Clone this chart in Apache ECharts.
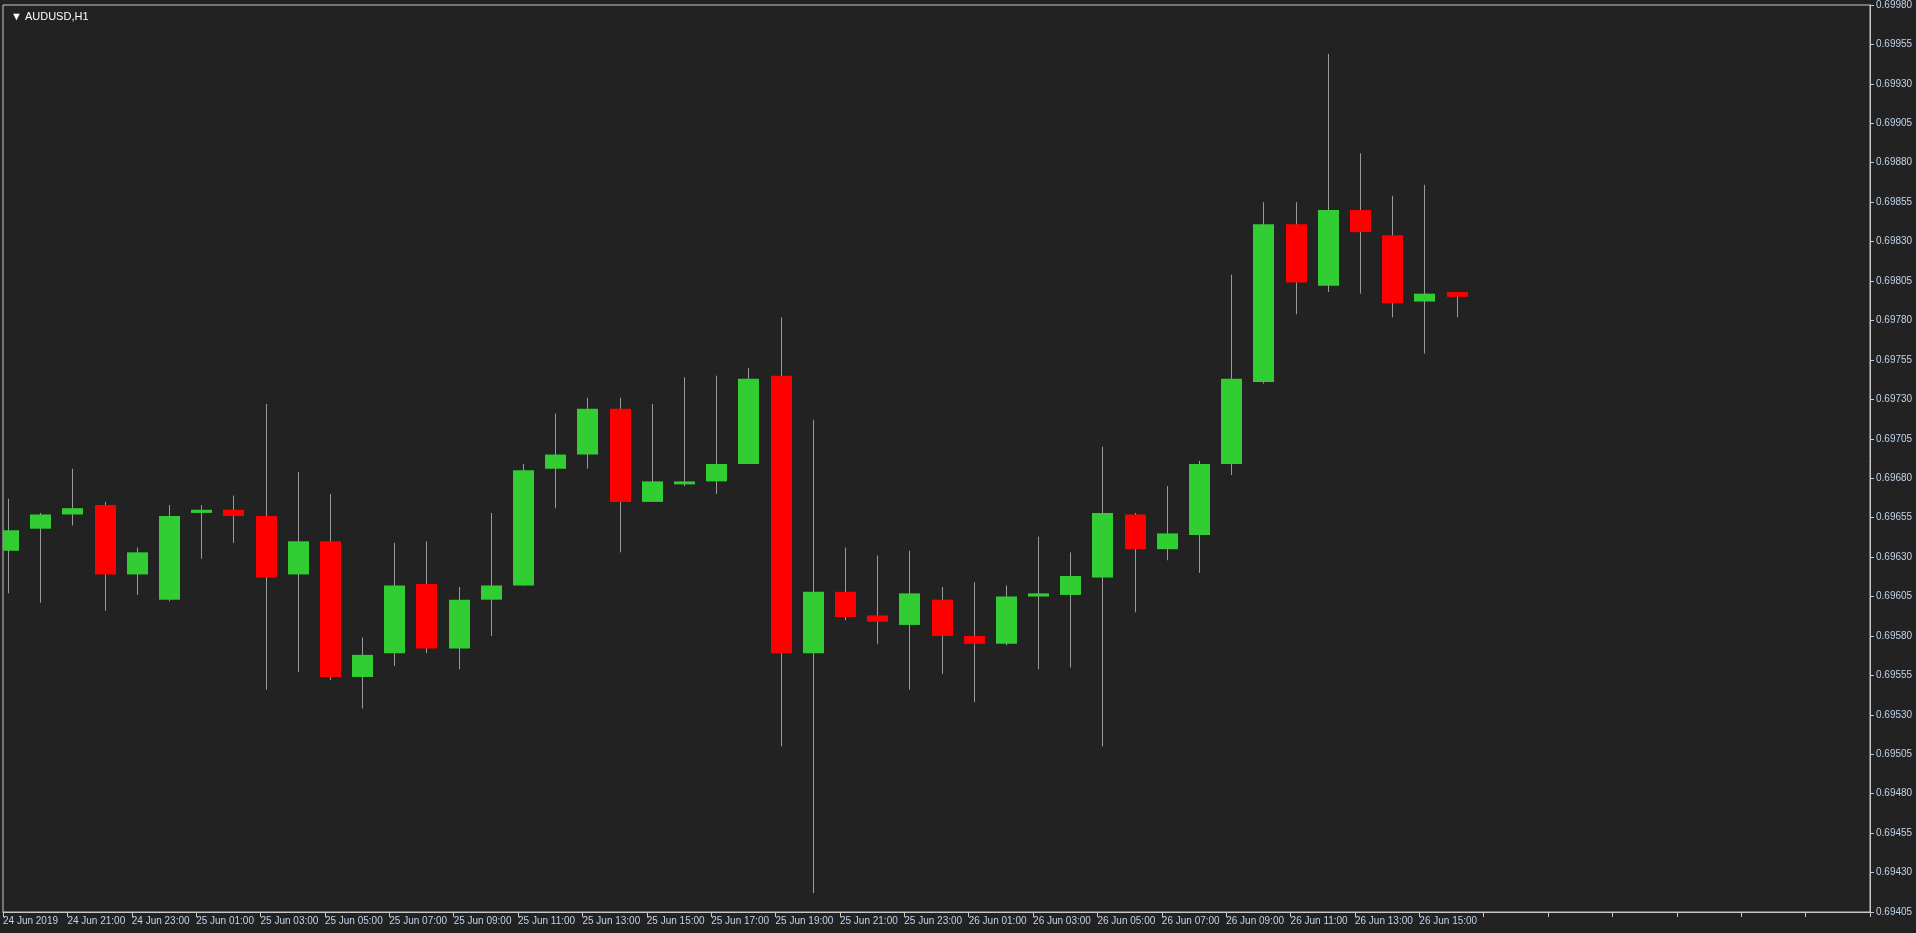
<!DOCTYPE html>
<html><head><meta charset="utf-8">
<script src="https://cdn.jsdelivr.net/npm/echarts@6/dist/echarts.min.js"></script>
<style>html,body{margin:0;padding:0;background:#222222}#c{width:1916px;height:933px}</style>
</head><body><div id="c"></div>
<script>
const categories = ["24 Jun 2019","24 Jun 20:00","24 Jun 21:00","24 Jun 22:00","24 Jun 23:00","25 Jun 00:00","25 Jun 01:00","25 Jun 02:00","25 Jun 03:00","25 Jun 04:00","25 Jun 05:00","25 Jun 06:00","25 Jun 07:00","25 Jun 08:00","25 Jun 09:00","25 Jun 10:00","25 Jun 11:00","25 Jun 12:00","25 Jun 13:00","25 Jun 14:00","25 Jun 15:00","25 Jun 16:00","25 Jun 17:00","25 Jun 18:00","25 Jun 19:00","25 Jun 20:00","25 Jun 21:00","25 Jun 22:00","25 Jun 23:00","26 Jun 00:00","26 Jun 01:00","26 Jun 02:00","26 Jun 03:00","26 Jun 04:00","26 Jun 05:00","26 Jun 06:00","26 Jun 07:00","26 Jun 08:00","26 Jun 09:00","26 Jun 10:00","26 Jun 11:00","26 Jun 12:00","26 Jun 13:00","26 Jun 14:00","26 Jun 15:00","26 Jun 16:00","","","","","","","","","","","","",""];
const opens  = [0.69634,0.69648,0.69657,0.69663,0.69619,0.69603,0.69658,0.69660,0.69656,0.69619,0.69640,0.69554,0.69569,0.69613,0.69572,0.69603,0.69612,0.69686,0.69695,0.69724,0.69665,0.69678,0.69678,0.69689,0.69745,0.69569,0.69608,0.69593,0.69587,0.69603,0.69580,0.69575,0.69605,0.69606,0.69617,0.69657,0.69635,0.69644,0.69689,0.69741,0.69841,0.69802,0.69850,0.69834,0.69792,0.69798];
const closes = [0.69647,0.69657,0.69661,0.69619,0.69633,0.69656,0.69660,0.69656,0.69617,0.69640,0.69554,0.69568,0.69612,0.69572,0.69603,0.69612,0.69685,0.69695,0.69724,0.69665,0.69678,0.69678,0.69689,0.69743,0.69569,0.69608,0.69592,0.69589,0.69607,0.69580,0.69575,0.69605,0.69607,0.69618,0.69658,0.69635,0.69645,0.69689,0.69743,0.69841,0.69804,0.69850,0.69836,0.69791,0.69797,0.69795];
const highs  = [0.69667,0.69658,0.69686,0.69665,0.69636,0.69663,0.69663,0.69669,0.69727,0.69684,0.69670,0.69579,0.69639,0.69640,0.69611,0.69658,0.69689,0.69721,0.69731,0.69731,0.69727,0.69744,0.69745,0.69750,0.69782,0.69717,0.69636,0.69631,0.69634,0.69611,0.69614,0.69612,0.69643,0.69633,0.69700,0.69658,0.69675,0.69691,0.69809,0.69855,0.69855,0.69949,0.69886,0.69859,0.69866,0.69798];
const lows   = [0.69607,0.69601,0.69650,0.69596,0.69606,0.69602,0.69629,0.69639,0.69546,0.69557,0.69552,0.69534,0.69561,0.69569,0.69559,0.69580,0.69612,0.69661,0.69686,0.69633,0.69665,0.69675,0.69670,0.69689,0.69510,0.69417,0.69590,0.69575,0.69546,0.69556,0.69538,0.69574,0.69559,0.69560,0.69510,0.69595,0.69628,0.69620,0.69682,0.69740,0.69784,0.69798,0.69797,0.69782,0.69759,0.69782];
const yTicks = [0.69405,0.69430,0.69455,0.69480,0.69505,0.69530,0.69555,0.69580,0.69605,0.69630,0.69655,0.69680,0.69705,0.69730,0.69755,0.69780,0.69805,0.69830,0.69855,0.69880,0.69905,0.69930,0.69955,0.69980];
const lastPrice = 0.69795;

const data = opens.map((o,i)=>[i,o,closes[i],lows[i],highs[i]]);
const chart = echarts.init(document.getElementById('c'));
const font = 'Liberation Sans';
chart.setOption({
  backgroundColor:'#222222',
  animation:false,
  title:{text:'▼ AUDUSD,H1',left:6,top:6,textStyle:{color:'#ffffff',fontSize:11,fontWeight:'normal',fontFamily:font}},
  grid:{left:2,right:46,top:3,bottom:21,show:true,borderColor:'#c8c8c8',borderWidth:1,backgroundColor:'#222222'},
  xAxis:{type:'category',data:categories,boundaryGap:false,
    axisLine:{lineStyle:{color:'#c8c8c8'}},
    axisTick:{show:true,interval:1,length:5,lineStyle:{color:'#c8c8c8'}},
    axisLabel:{interval:1,color:'#c0d4ea',fontSize:10,fontFamily:font,align:'left',margin:4},
    splitLine:{show:false}},
  yAxis:{type:'value',position:'right',min:0.69405,max:0.69980,scale:true,
    axisLine:{show:true,lineStyle:{color:'#c8c8c8'}},
    axisTick:{show:true,customValues:yTicks,length:4,lineStyle:{color:'#c8c8c8'}},
    axisLabel:{customValues:yTicks,color:'#c0d4ea',fontSize:10,fontFamily:font,margin:6,formatter:v=>v.toFixed(5)},
    splitLine:{show:false}},
  series:[{
    type:'custom',data:data,clip:true,
    encode:{x:0,y:[1,2,3,4]},
    renderItem:(params,api)=>{
      const i=api.value(0),o=api.value(1),c=api.value(2),l=api.value(3),h=api.value(4);
      const po=api.coord([i,o]),pc=api.coord([i,c]),pl=api.coord([i,l]),ph=api.coord([i,h]);
      const w=21,x=Math.round(po[0])+5;
      const top=Math.min(po[1],pc[1]),bh=Math.max(Math.abs(po[1]-pc[1]),3);
      const col=c>=o?'#32cd32':'#ff0000';
      return {type:'group',children:[
        {type:'line',shape:{x1:x+0.5,y1:ph[1],x2:x+0.5,y2:pl[1]},style:{stroke:'#9a9a9a',lineWidth:1}},
        {type:'rect',shape:{x:x-w/2+0.5,y:top,width:w,height:bh},style:{fill:col}}
      ]};
    },
    markLine:{silent:true,symbol:['none','none'],
      lineStyle:{color:'#4a4a4a',type:'solid',width:1},
      label:{position:'end',formatter:()=>lastPrice.toFixed(5),color:'#222',backgroundColor:'#e0e0e0',padding:[1,2],fontSize:10,fontFamily:font,distance:2},
      data:[{yAxis:lastPrice}]}
  }]
});
</script></body></html>
